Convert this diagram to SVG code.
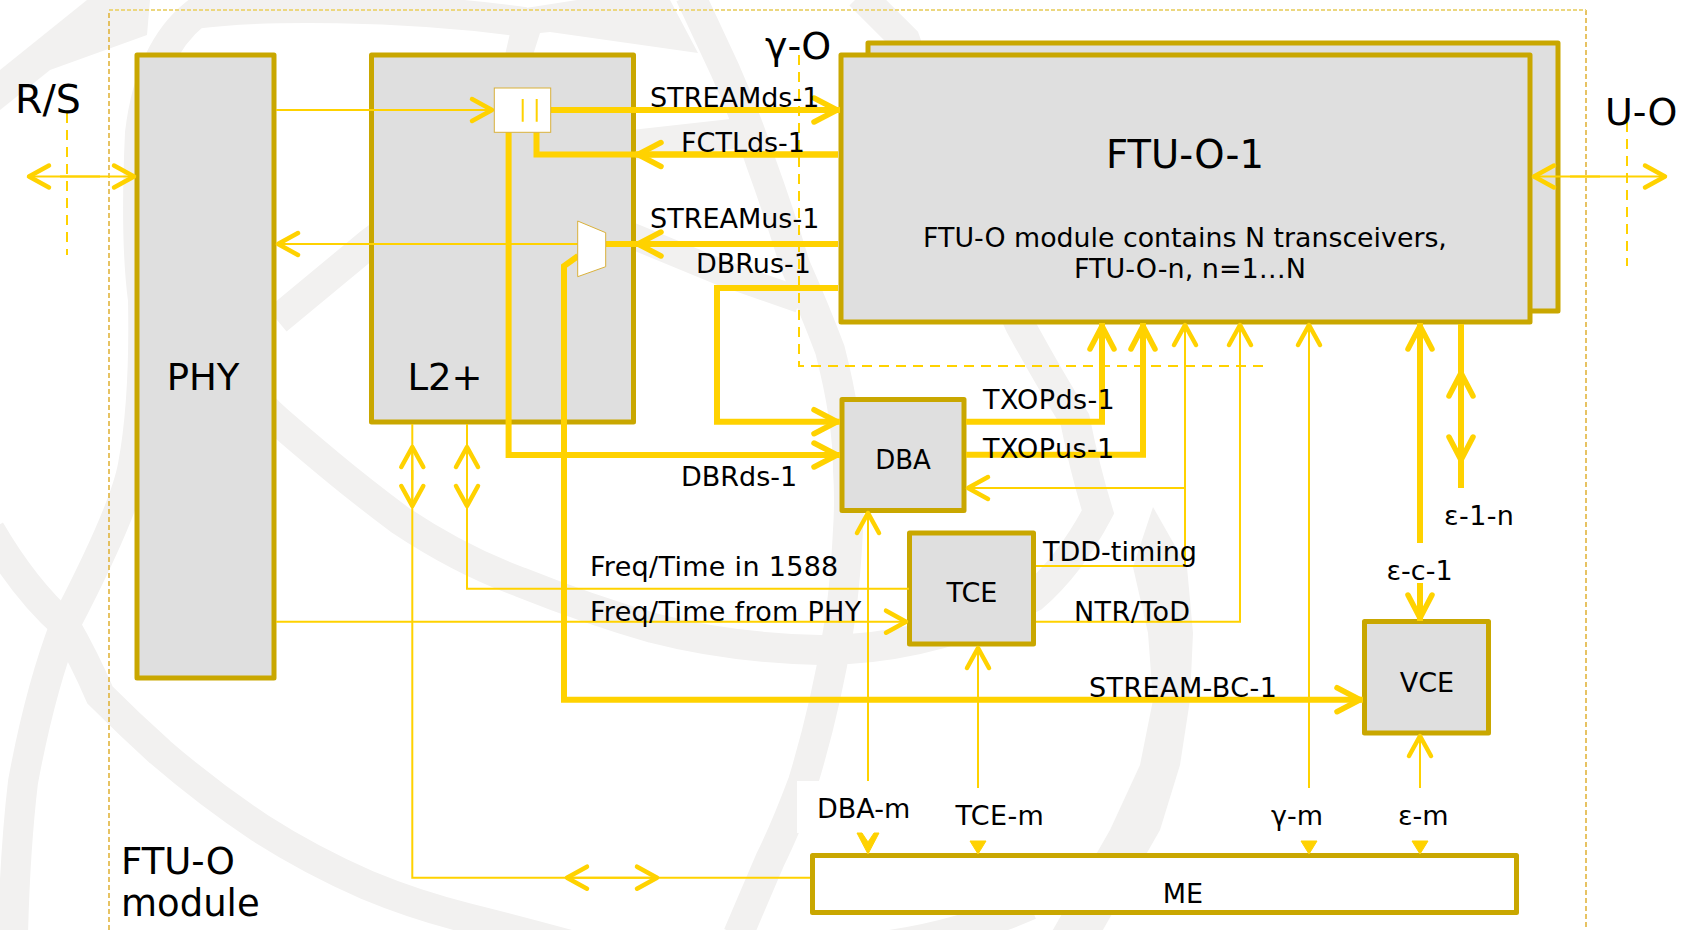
<svg xmlns="http://www.w3.org/2000/svg" width="1688" height="930" viewBox="0 0 1688 930">
<style>
text{font-family:"DejaVu Sans","Liberation Sans",sans-serif;fill:#000}
.lg{font-size:38px}.md{font-size:27px}
.ls{letter-spacing:.4px}
.box{fill:#dfdfdf;stroke:#c9a700;stroke-width:5;stroke-linejoin:round}
.wm{fill:none;stroke:#f2f1f0;stroke-width:30}
.wf{fill:#f2f1f0}
.c{fill:none;stroke:#ffd200;stroke-linejoin:miter}
.th{stroke-width:6}.tn{stroke-width:2}
.ah{marker-end:url(#big)}.as{marker-end:url(#small)}
.d{fill:none;stroke:#ffd200;stroke-width:2;stroke-dasharray:10 7}
.tip{fill:#ffd200;stroke:#ffd200;stroke-width:1}
</style>
<defs>
<marker id="big" markerUnits="userSpaceOnUse" orient="auto" markerWidth="40" markerHeight="40" refX="33" refY="20" viewBox="0 0 40 40"><path d="M7,8 L30,20 L7,32" fill="none" stroke="#ffd200" stroke-width="5.500" stroke-linecap="round" stroke-linejoin="round"/></marker>
<marker id="small" markerUnits="userSpaceOnUse" orient="auto" markerWidth="40" markerHeight="40" refX="32" refY="20" viewBox="0 0 40 40"><path d="M10,9 L30,20 L10,31" fill="none" stroke="#ffd200" stroke-width="4.500" stroke-linecap="round" stroke-linejoin="round"/></marker>
</defs>
<g id="watermark">
<path class="wf" d="M0,70L87,0H150L147,35L50,70L0,110Z"/>
<path class="wm" d="M525,22C400,5 260,5 195,14Q150,50 140,133Q135,240 143,300Q145,400 133,465Q125,510 65,625Q40,690 23,782Q15,850 13,935"/>
<path class="wf" d="M513,20L505,55H533L540,33L550,32L698,53L670,0H577L513,10Z"/>
<path class="wm" d="M-10,530Q25,590 65,625Q85,660 100,695Q130,725 160,752Q210,795 260,828Q310,860 367,885Q415,905 467,918Q515,930 570,945"/>
<path class="wm" d="M277,320L370,243Q440,190 500,170Q570,148 633,145L750,132"/>
<path class="wm" style="stroke-linejoin:miter;stroke-miterlimit:8" d="M240,380Q260,405 277,420Q300,440 330,465Q360,490 400,520Q460,560 520,582Q590,610 653,628Q730,648 820,650Q930,650 1033,597Q1070,565 1098,512Q1085,470 1075,420Q1050,380 1020,325Q990,260 960,190Q930,110 905,40L860,-5"/>
<path class="wm" d="M690,-5L725,70Q745,115 760,160Q780,215 795,265Q815,310 830,350Q848,420 848,470Q850,500 848,530Q845,590 838,632Q825,710 803,782Q785,830 770,860L738,935"/>
<path class="wm" style="stroke-width:26" d="M630,235L720,272L800,300"/>
<path class="wf" d="M1153,507L1133,567L1148,633L1153,700L1140,765L1110,830L1050,935H1100L1160,830L1180,765L1190,700L1193,633L1187,567Z"/>
<path class="wm" d="M890,945Q960,935 1030,905"/>
<rect x="797" y="781" width="72" height="52" fill="#fff"/>
</g>
<g id="module-border" fill="none">
<path d="M109,930V10M1586,10V930" stroke="#e0b030" stroke-width="1.500" stroke-dasharray="5 3"/>
<path d="M109,10H1586" stroke="#ecd77f" stroke-width="2" stroke-dasharray="4 2"/>
</g>
<g id="node-ftu-back"><rect class="box" x="868" y="43" width="690" height="268"/></g>
<g id="node-ftu"><rect class="box" x="841" y="55" width="689" height="267"/>
<text x="1185" y="168" text-anchor="middle" style="font-size:38.500px">FTU-O-1</text>
<text x="1185" y="247" text-anchor="middle" style="font-size:26.800px">FTU-O module contains N transceivers,</text>
<text class="md" x="1190" y="278" text-anchor="middle">FTU-O-n, n=1…N</text></g>
<g id="node-phy"><rect class="box" x="137" y="55" width="137" height="623"/><text x="203" y="390" text-anchor="middle" style="font-size:37px">PHY</text></g>
<g id="node-l2"><rect class="box" x="371.500" y="55" width="262" height="367"/><text x="445" y="390" text-anchor="middle" style="font-size:37px">L2+</text></g>
<g id="node-dba"><rect class="box" x="842" y="399.500" width="122" height="111"/><text x="903" y="469" text-anchor="middle" style="font-size:26px">DBA</text></g>
<g id="node-tce"><rect class="box" x="909.500" y="533" width="124" height="111"/><text class="md" x="972" y="602" text-anchor="middle">TCE</text></g>
<g id="node-vce"><rect class="box" x="1364.500" y="621.500" width="124" height="111.500"/><text class="md" x="1427" y="692" text-anchor="middle">VCE</text></g>
<g id="node-me"><rect class="box" style="fill:#fff" x="812.500" y="855.500" width="704" height="57"/><text class="md" x="1183" y="903" text-anchor="middle">ME</text></g>
<g id="connectors">
<path class="d" d="M67,113V255"/>
<path class="d" d="M799,55V366H1269"/>
<path class="d" d="M1627,122V266"/>
<path class="c tn as" d="M60,176.500H136"/><path class="c tn as" d="M100,176.500H27"/>
<path class="c tn as" d="M1600,176.500H1532"/><path class="c tn as" d="M1570,176.500H1667"/>
<path class="c tn as" d="M276,110H494"/>
<path class="c th ah" d="M551,110H840"/>
<path class="c th" d="M838,154.500H536.500V132"/>
<path class="c th ah" d="M838,154.500H635"/>
<path class="c th" d="M838,244H606"/><path class="c th ah" d="M838,244H635"/>
<path class="c tn as" d="M578,244H276"/>
<path class="c th ah" d="M838,288H717V421.700H840"/>
<path class="c th ah" d="M508.600,132V455H840"/>
<path class="c th ah" d="M578,256L564,266V699.700H1363"/>
<path class="c th ah" d="M966,421.700H1102V323"/>
<path class="c th ah" d="M966,454.700H1143V323"/>
<path class="c tn as" d="M1036,566H1185V323"/>
<path class="c tn as" d="M1185,488H966"/>
<path class="c tn as" d="M1036,621.700H1240V323"/>
<path class="c tn as" d="M1309,788V323"/>
<path class="c th ah" d="M1420,543V323"/>
<path class="c th ah" d="M1420,583V621"/>
<path class="c th" d="M1461,324V488"/><path class="c th ah" d="M1461,420V370"/><path class="c th ah" d="M1461,420V463"/>
<path class="c tn as" d="M1420,788V734"/>
<path class="c tn as" d="M978,788V646"/>
<path class="c tn as" d="M868,781V511"/>
<path class="c tn" d="M412.300,424V877.700H810"/>
<path class="c tn as" d="M412.300,480V445"/><path class="c tn as" d="M412.300,470V508"/>
<path class="c tn" d="M467,424V588.700H909"/>
<path class="c tn as" d="M467,480V445"/><path class="c tn as" d="M467,470V508"/>
<path class="c tn as" d="M610,877.700H565"/><path class="c tn as" d="M610,877.700H659"/>
<path class="c tn as" d="M276,621.700H908"/>
<path class="tip" d="M857,833L868,854L879,833H874L868,842L862,833Z"/>
<path class="tip" d="M970,841L978,854L986,841Z"/>
<path class="tip" d="M1301,841L1309,854L1317,841Z"/>
<path class="tip" d="M1412,841L1420,854L1428,841Z"/>
</g>
<g id="node-splitter"><rect x="494.300" y="88" width="56.400" height="44.300" fill="#fff" stroke="#d9b13b" stroke-width="1"/><path d="M522.700,99V121.700M536.700,99V121.700" stroke="#ffd200" stroke-width="2" fill="none"/></g>
<g id="node-mux"><path d="M577.700,221L605.700,232.700V266.700L577.700,276.700Z" fill="#fff" stroke="#d9b13b" stroke-width="1"/></g>
<g id="labels">
<text x="15" y="113" style="font-size:39.500px">R/S</text>
<text class="lg" x="765" y="59">γ-O</text>
<text class="lg" x="1605" y="125">U-O</text>
<text x="121" y="874" style="font-size:37px">FTU-O</text><text x="121" y="916" style="font-size:37px">module</text>
<text class="md" x="650" y="107">STREAMds-1</text>
<text class="md" x="681" y="152">FCTLds-1</text>
<text class="md" x="650" y="228">STREAMus-1</text>
<text class="md" x="696" y="273">DBRus-1</text>
<text class="md" x="681" y="485.500">DBRds-1</text>
<text class="md ls" x="983" y="409">TXOPds-1</text>
<text class="md ls" x="983" y="458">TXOPus-1</text>
<text class="md" x="1043" y="561">TDD-timing</text>
<text class="md ls" x="1074" y="621">NTR/ToD</text>
<text class="md ls" x="1089" y="697">STREAM-BC-1</text>
<text class="md" x="590" y="576" style="letter-spacing:.3px">Freq/Time in 1588</text>
<text class="md" x="590" y="621" style="letter-spacing:.3px">Freq/Time from PHY</text>
<text class="md ls" x="1444" y="525">ε-1-n</text>
<text class="md" x="1386.500" y="580">ε-c-1</text>
<text class="md" x="817" y="818">DBA-m</text>
<text class="md ls" x="955.400" y="825">TCE-m</text>
<text class="md" x="1271" y="825">γ-m</text>
<text class="md" x="1398" y="825">ε-m</text>
</g>
</svg>
